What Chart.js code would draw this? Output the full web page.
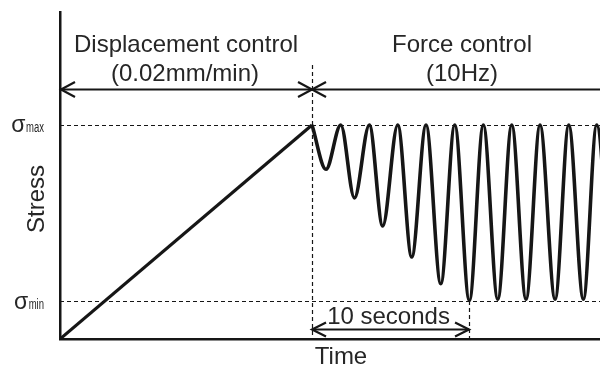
<!DOCTYPE html>
<html>
<head>
<meta charset="utf-8">
<style>
  html, body { margin: 0; padding: 0; background: #ffffff; }
  #chart { display: block; }
</style>
<script src="https://cdn.jsdelivr.net/npm/chart.js@4.4.1/dist/chart.umd.min.js"></script>
</head>
<body>
<canvas id="chart" width="600" height="368"></canvas>
<script>
// Loading ramp under displacement control (time s, stress in % of sigma max)
const rampTime   = [0, 16.05];
const rampStress = [0, 100];

// Cyclic loading under force control: alternating peaks and troughs
const cycleTime = [16.05, 16.94, 17.88, 18.75, 19.70, 20.55, 21.51, 22.40, 23.31, 24.25,
                   25.14, 26.07, 26.96, 27.88, 28.77, 29.68, 30.57, 31.53, 32.40, 33.33,
                   34.18, 35.10];
const cycleStress = [100, 79.3, 100, 65.9, 100, 52.8, 100, 38.3, 100, 25.8,
                     100, 18.0, 100, 18.6, 100, 18.6, 100, 18.6, 100, 18.6,
                     100, 18.6];

// Stress levels marked on the vertical axis
const stressLevels = [100, 17.7];
const stressLevelSubs = ['max', 'min'];

// Time markers: end of the ramp and end of the ten-second window
const phaseSwitchTime = 16.05;
const windowSeconds = 10;

// Axis extents
const timeMax = 34.39;
const stressMax = 152.8;

const INK = '#161616';
const TEXT = '#262626';
const FONT = '"Liberation Sans", Arial, Helvetica, sans-serif';

function toPoints(xs, ys) { return xs.map((x, i) => ({ x: x, y: ys[i] })); }

function chevron(ctx, x, y, dir, len, half) {
  ctx.beginPath();
  ctx.moveTo(x - dir * len, y - half);
  ctx.lineTo(x, y);
  ctx.lineTo(x - dir * len, y + half);
  ctx.stroke();
}

const annotations = {
  id: 'annotations',
  beforeDatasetsDraw(chart) {
    const { ctx, chartArea: a, scales: { x, y } } = chart;
    ctx.save();
    ctx.strokeStyle = INK;
    ctx.lineWidth = 1.2;
    ctx.setLineDash([4, 3]);
    // horizontal reference levels
    stressLevels.forEach(v => {
      const py = Math.round(y.getPixelForValue(v)) + 0.5;
      ctx.beginPath(); ctx.moveTo(a.left, py); ctx.lineTo(a.right, py); ctx.stroke();
    });
    // vertical markers
    const xs = Math.round(x.getPixelForValue(phaseSwitchTime)) + 0.5;
    ctx.beginPath(); ctx.moveTo(xs, 65); ctx.lineTo(xs, a.bottom); ctx.stroke();
    const xe = Math.round(x.getPixelForValue(phaseSwitchTime + windowSeconds)) + 0.5;
    ctx.beginPath(); ctx.moveTo(xe, y.getPixelForValue(stressLevels[1])); ctx.lineTo(xe, a.bottom); ctx.stroke();
    ctx.restore();
  },
  afterDraw(chart) {
    const { ctx, chartArea: a, scales: { x, y } } = chart;
    const xs = x.getPixelForValue(phaseSwitchTime);
    const xe = x.getPixelForValue(phaseSwitchTime + windowSeconds);
    ctx.save();
    ctx.setLineDash([]);
    ctx.strokeStyle = INK;
    ctx.lineWidth = 2.2;
    ctx.lineCap = 'butt';

    // phase arrows along the top
    const ay = 89.5;
    ctx.beginPath(); ctx.moveTo(a.left, ay); ctx.lineTo(a.right, ay); ctx.stroke();
    chevron(ctx, a.left + 1, ay, -1, 14, 7.5);
    chevron(ctx, xs, ay, 1, 14, 7.5);
    chevron(ctx, xs, ay, -1, 14, 7.5);

    // ten-second window arrow
    const wy = 329.5;
    ctx.beginPath(); ctx.moveTo(xs, wy); ctx.lineTo(xe, wy); ctx.stroke();
    chevron(ctx, xs, wy, -1, 14, 7);
    chevron(ctx, xe, wy, 1, 14, 7);

    // texts
    ctx.fillStyle = TEXT;
    ctx.font = '24px ' + FONT;
    ctx.textAlign = 'center';
    ctx.textBaseline = 'alphabetic';
    const leftMid = (a.left + xs) / 2;
    ctx.fillText('Displacement control', leftMid, 52);
    ctx.fillText('(0.02mm/min)', leftMid - 1, 81);
    ctx.fillText('Force control', 462, 52);
    ctx.fillText('(10Hz)', 462, 81);
    ctx.fillText('10 seconds', (xs + xe) / 2 - 2, 324);
    ctx.fillText('Time', 341, 364);

    ctx.save();
    ctx.translate(44, 199);
    ctx.rotate(-Math.PI / 2);
    ctx.textBaseline = 'alphabetic';
    ctx.fillText('Stress', 0, 0);
    ctx.restore();

    // sigma level labels
    stressLevels.forEach((v, i) => {
      const base = y.getPixelForValue(v) + 7.5;
      const right = 44;
      ctx.textAlign = 'left';
      ctx.font = '14px ' + FONT;
      const subW = ctx.measureText(stressLevelSubs[i]).width * 0.68;
      ctx.save();
      ctx.translate(right - subW, base);
      ctx.scale(0.68, 1);
      ctx.fillText(stressLevelSubs[i], 0, 0);
      ctx.restore();
      ctx.font = '23px ' + FONT;
      const sW = ctx.measureText('σ').width;
      ctx.fillText('σ', right - subW - sW - 0.5, base);
    });
    ctx.restore();
  }
};

new Chart(document.getElementById('chart'), {
  type: 'line',
  data: {
    datasets: [
      {
        data: toPoints(rampTime, rampStress),
        borderColor: INK,
        borderWidth: 3.2,
        pointRadius: 0,
        tension: 0
      },
      {
        data: toPoints(cycleTime, cycleStress),
        borderColor: INK,
        borderWidth: 3.6,
        pointRadius: 0,
        cubicInterpolationMode: 'monotone'
      }
    ]
  },
  options: {
    responsive: false,
    devicePixelRatio: 1,
    animation: false,
    layout: { padding: { left: 60, top: 12, right: 0, bottom: 29 } },
    plugins: { legend: { display: false }, tooltip: { enabled: false } },
    scales: {
      x: {
        type: 'linear',
        min: 0,
        max: timeMax,
        grid: { display: false, drawTicks: false, tickLength: 0 },
        ticks: { display: false },
        border: { display: true, color: INK, width: 2.5 },
        afterFit(s) { s.height = 0; }
      },
      y: {
        type: 'linear',
        min: 0,
        max: stressMax,
        grid: { display: false, drawTicks: false, tickLength: 0 },
        ticks: { display: false },
        border: { display: true, color: INK, width: 2.5 },
        afterFit(s) { s.width = 0; }
      }
    }
  },
  plugins: [annotations]
});
</script>
</body>
</html>
